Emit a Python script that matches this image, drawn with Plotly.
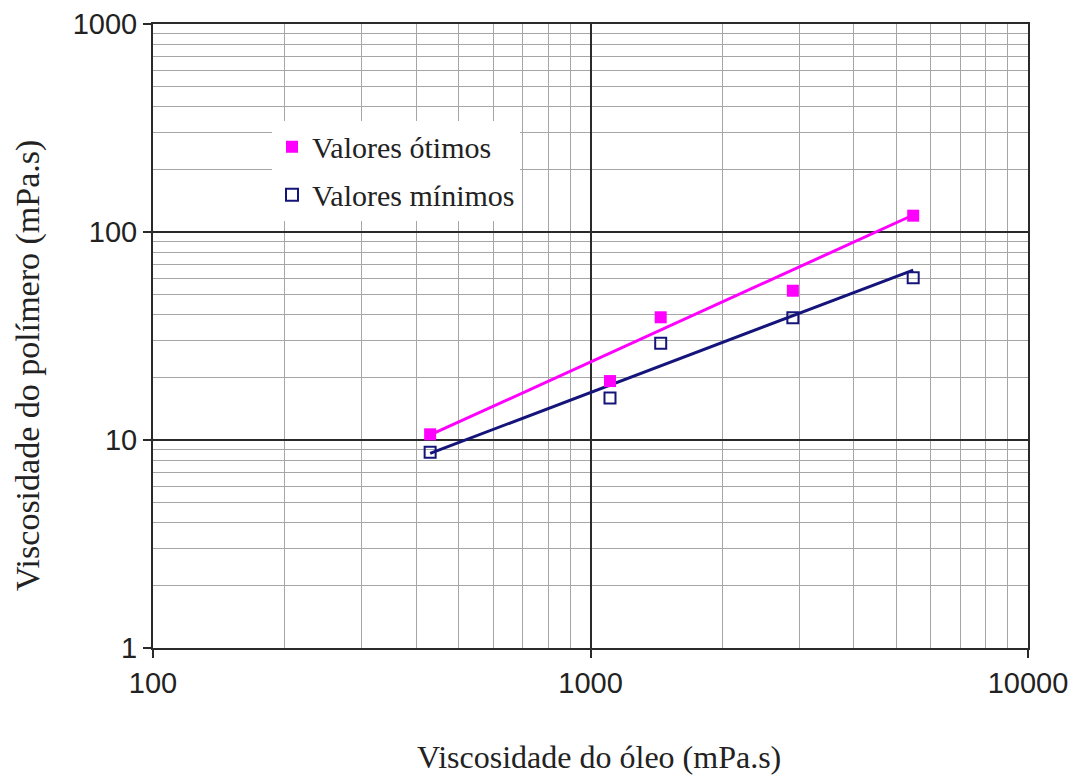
import plotly.graph_objects as go

# Data
oil_visc = [430, 1108, 1447, 2901, 5465]
poly_otimos = [10.65, 19.2, 38.9, 52.2, 119.8]
poly_minimos = [8.73, 15.9, 29.2, 38.7, 60.3]

trend_x = [430, 5465]
trend_otimos = [10.57, 120.7]
trend_minimos = [8.63, 65.6]

x_tickvals = [100, 1000, 10000]
x_ticktext = ["100", "1000", "10000"]
y_tickvals = [1, 10, 100, 1000]
y_ticktext = ["1", "10", "100", "1000"]

PINK = "#FF00FF"
NAVY = "#14147A"

fig = go.Figure()

fig.add_trace(go.Scatter(x=trend_x, y=trend_otimos, mode="lines",
                         line=dict(color=PINK, width=3), showlegend=False, hoverinfo="skip"))
fig.add_trace(go.Scatter(x=trend_x, y=trend_minimos, mode="lines",
                         line=dict(color=NAVY, width=3), showlegend=False, hoverinfo="skip"))

fig.add_trace(go.Scatter(x=oil_visc, y=poly_otimos, mode="markers", name="Valores ótimos",
                         legendgroup="a",
                         marker=dict(symbol="square", size=12, color=PINK)))
fig.add_trace(go.Scatter(x=oil_visc, y=poly_minimos, mode="markers", name="Valores mínimos",
                         legendgroup="b",
                         marker=dict(symbol="square-open", size=11, color=NAVY,
                                     line=dict(width=2, color=NAVY))))

axis_common = dict(
    type="log", automargin=False,
    showline=True, mirror=True, linecolor="#2a2a2a", linewidth=2,
    ticks="outside", ticklen=8, tickwidth=1.5, tickcolor="#2a2a2a",
    showgrid=True, gridcolor="#2a2a2a", gridwidth=1.8,
    zeroline=False,
    tickfont=dict(family="Liberation Sans, Arial", size=29, color="#222222"),
)

fig.update_xaxes(range=[2, 4], tickvals=x_tickvals, ticktext=x_ticktext,
                 minor=dict(dtick="D1", showgrid=True, gridcolor="#A6A6A6", gridwidth=1.4, ticks=""),
                 **axis_common)
fig.update_yaxes(range=[0, 3], tickvals=y_tickvals, ticktext=y_ticktext,
                 minor=dict(dtick="D1", showgrid=True, gridcolor="#A6A6A6", gridwidth=1.4, ticks=""),
                 **axis_common)

fig.update_layout(
    width=1069, height=770,
    margin=dict(l=145, r=49, t=16, b=130),
    paper_bgcolor="white", plot_bgcolor="white",
    legend=dict(x=0.136, y=0.845, xanchor="left", yanchor="top",
                bgcolor="white", borderwidth=0,
                font=dict(family="Liberation Serif, Times New Roman", size=30, color="#222222"),
                traceorder="grouped", tracegroupgap=6, itemsizing="constant"),
    annotations=[
        dict(text="Viscosidade do óleo (mPa.s)", xref="paper", yref="paper",
             x=0.51, y=-0.1747, xanchor="center", yanchor="middle", showarrow=False,
             font=dict(family="Liberation Serif, Times New Roman", size=32, color="#222222")),
        dict(text="Viscosidade do polímero (mPa.s)", xref="paper", yref="paper",
             x=-0.143, y=0.4535, xanchor="center", yanchor="middle", showarrow=False,
             textangle=-90,
             font=dict(family="Liberation Serif, Times New Roman", size=34, color="#222222")),
    ],
)

fig.write_html("out.html")
